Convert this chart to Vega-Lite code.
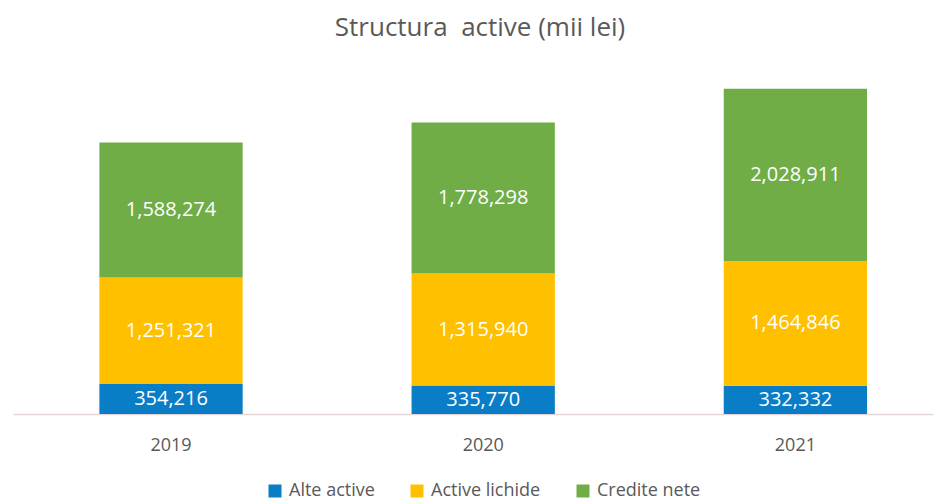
{
  "$schema": "https://vega.github.io/schema/vega-lite/v6.json",
  "autosize": "none",
  "width": 920,
  "height": 340,
  "padding": {"left": 13, "top": 74, "right": 2, "bottom": 88},
  "background": "white",
  "title": {
    "text": "Structura\u00a0 active (mii lei)",
    "fontSize": 26,
    "font": "Open Sans",
    "fontWeight": "normal",
    "color": "#595959",
    "anchor": "middle",
    "frame": "group",
    "dx": 7,
    "offset": 33
  },
  "config": {"view": {"stroke": null}},
  "data": {
    "values": [
      {"an": "2019", "categorie": "Alte active", "valoare": 354216},
      {"an": "2019", "categorie": "Active lichide", "valoare": 1251321},
      {"an": "2019", "categorie": "Credite nete", "valoare": 1588274},
      {"an": "2020", "categorie": "Alte active", "valoare": 335770},
      {"an": "2020", "categorie": "Active lichide", "valoare": 1315940},
      {"an": "2020", "categorie": "Credite nete", "valoare": 1778298},
      {"an": "2021", "categorie": "Alte active", "valoare": 332332},
      {"an": "2021", "categorie": "Active lichide", "valoare": 1464846},
      {"an": "2021", "categorie": "Credite nete", "valoare": 2028911}
    ]
  },
  "transform": [
    {"window": [{"op": "row_number", "as": "pozitie"}], "groupby": ["an"]}
  ],
  "encoding": {
    "x": {
      "field": "an",
      "type": "nominal",
      "scale": {"paddingInner": 0.541, "paddingOuter": 0.244, "align": 0.567},
      "axis": {
        "title": null,
        "labelAngle": 0,
        "labelFont": "Open Sans",
        "labelFontSize": 18,
        "labelColor": "#595959",
        "labelPadding": 22,
        "ticks": false,
        "domainColor": "#E3D6D9",
        "domainWidth": 1.5
      }
    },
    "y": {
      "field": "valoare",
      "type": "quantitative",
      "stack": "zero",
      "scale": {"domain": [0, 4000000], "nice": false},
      "axis": null
    },
    "order": {"field": "pozitie", "type": "quantitative", "sort": "ascending"}
  },
  "layer": [
    {
      "mark": {"type": "bar"},
      "encoding": {
        "color": {
          "field": "categorie",
          "type": "nominal",
          "sort": ["Alte active", "Active lichide", "Credite nete"],
          "scale": {
            "domain": ["Alte active", "Active lichide", "Credite nete"],
            "range": ["#0A7DC7", "#FFC000", "#70AD47"]
          },
          "legend": {
            "title": null,
            "orient": "none",
            "direction": "horizontal",
            "legendX": 253,
            "legendY": 408,
            "symbolType": "square",
            "symbolSize": 169,
            "symbolStrokeWidth": 0,
            "labelFont": "Open Sans",
            "labelFontSize": 18,
            "labelColor": "#595959",
            "columnPadding": 33,
            "labelOffset": 5
          }
        }
      }
    },
    {
      "mark": {"type": "text", "color": "white", "font": "Open Sans", "fontSize": 20},
      "encoding": {
        "detail": {"field": "categorie", "type": "nominal"},
        "y": {
          "field": "valoare",
          "type": "quantitative",
          "stack": "zero",
          "bandPosition": 0.5
        },
        "text": {"field": "valoare", "type": "quantitative", "format": ","}
      }
    }
  ]
}
